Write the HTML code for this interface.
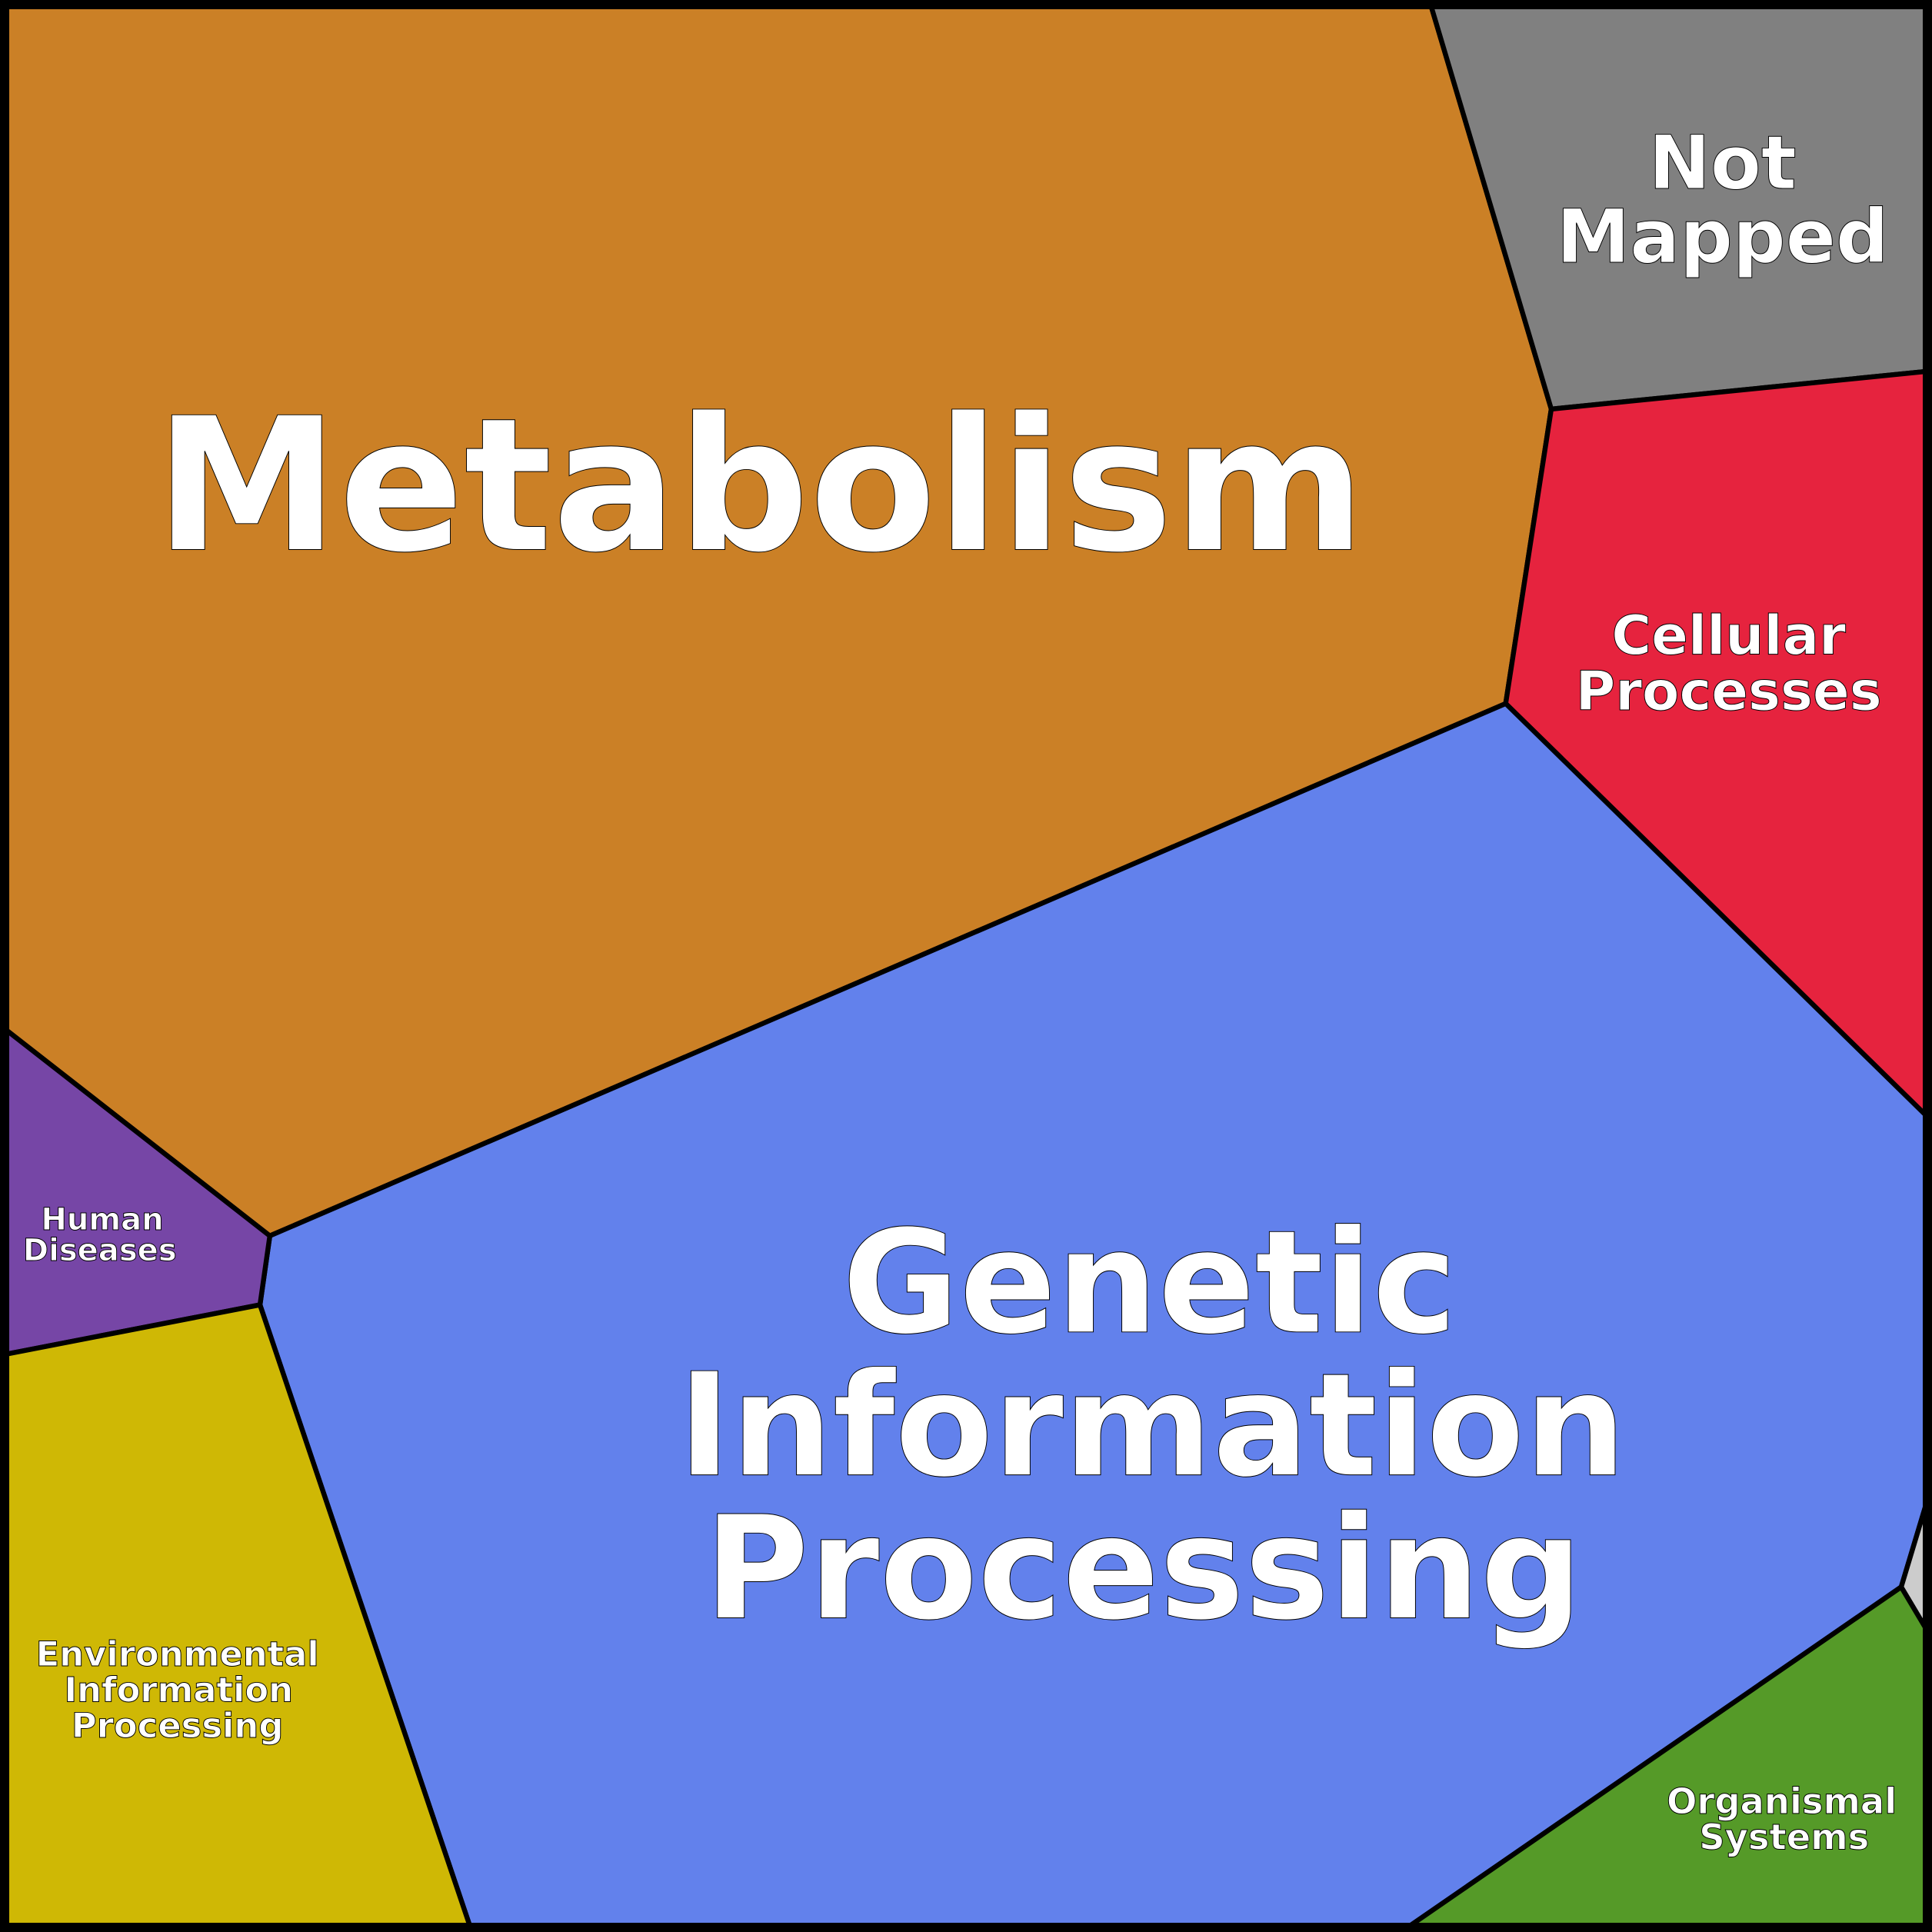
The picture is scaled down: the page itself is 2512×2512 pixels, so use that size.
<!DOCTYPE html>
<html><head><meta charset="utf-8"><style>
html,body{margin:0;padding:0;background:#fff}
svg{display:block}
text{font-family:"DejaVu Sans","Liberation Sans",sans-serif;font-weight:bold;fill:#fff;stroke:#000;stroke-width:0.6;text-anchor:middle}
</style></head><body>
<svg width="2512" height="2512" viewBox="0 0 1568 1568" xmlns="http://www.w3.org/2000/svg">
<g stroke="#000" stroke-width="4" stroke-linejoin="round">
<polygon fill="#cb8026" points="0,0 1160,0 1259,332 1222,571 219,1003 0,832"/>
<polygon fill="#808080" points="1160,0 1568,0 1568,301 1259,332"/>
<polygon fill="#e6233e" points="1259,332 1568,301 1568,910 1222,571"/>
<polygon fill="#6281ec" points="219,1003 1222,571 1568,910 1568,1205 1543,1288 1137,1568 383,1568 211,1059"/>
<polygon fill="#cccccc" points="1568,1205 1543,1288 1568,1330"/>
<polygon fill="#559a28" points="1543,1288 1568,1330 1568,1568 1137,1568"/>
<polygon fill="#7646a6" points="0,832 219,1003 211,1059 0,1100"/>
<polygon fill="#cfb805" points="0,1100 211,1059 383,1568 0,1568"/>
</g>
<rect x="3.75" y="3.75" width="1560.5" height="1560.5" fill="none" stroke="#000" stroke-width="7.5" rx="3"/>
<text x="617" y="446" font-size="150">Metabolism</text>
<text x="1398" y="153" font-size="60">Not</text>
<text x="1398" y="213" font-size="60">Mapped</text>
<text x="1403" y="531" font-size="44">Cellular</text>
<text x="1403" y="576" font-size="44">Processes</text>
<text x="933" y="1081" font-size="116">Genetic</text>
<text x="935" y="1197" font-size="116">Information</text>
<text x="928" y="1313" font-size="116">Processing</text>
<text x="83" y="998" font-size="25" stroke-width="0.4">Human</text>
<text x="81" y="1023" font-size="25" stroke-width="0.4">Diseases</text>
<text x="144" y="1352" font-size="28" stroke-width="0.4">Environmental</text>
<text x="145" y="1381" font-size="28" stroke-width="0.4">Information</text>
<text x="144" y="1410" font-size="28" stroke-width="0.4">Processing</text>
<text x="1446" y="1472" font-size="29" stroke-width="0.4">Organismal</text>
<text x="1448" y="1501" font-size="29" stroke-width="0.4">Systems</text>
</svg>
</body></html>
